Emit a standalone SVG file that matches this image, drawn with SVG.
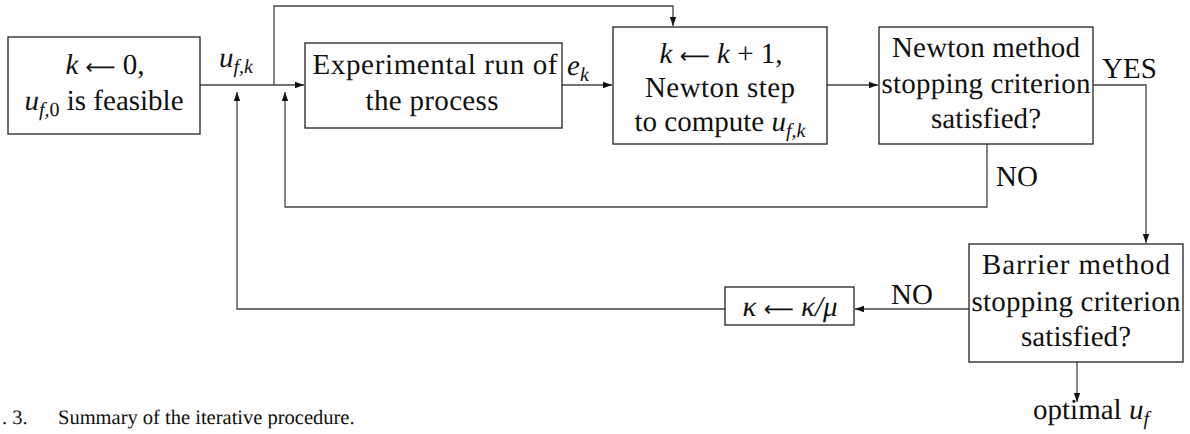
<svg xmlns="http://www.w3.org/2000/svg" width="1190" height="434" viewBox="0 0 1190 434">
<style>
text{font-family:"Liberation Serif","Times New Roman",serif;font-size:29px;fill:#111;text-rendering:geometricPrecision}
.m{font-style:italic}
.s{font-size:20px}
.ar{font-family:"DejaVu Sans",sans-serif;font-style:normal;font-size:21px}
.box{fill:#fff;stroke:#222;stroke-width:1.3}
.c{fill:none;stroke:#444;stroke-width:1.3}
.cap{font-size:20.5px}
</style>
<defs>
<marker id="ar" markerUnits="userSpaceOnUse" markerWidth="10" markerHeight="8" refX="9" refY="4" orient="auto">
<path d="M0,0.8 L9,4 L0,7.2 Z" fill="#111"/>
</marker>
</defs>
<g id="connectors">
<path class="c" d="M200,85 H304" marker-end="url(#ar)"/>
<path class="c" d="M274,85 V6 H673 V26" marker-end="url(#ar)"/>
<path class="c" d="M562,85 H612" marker-end="url(#ar)"/>
<path class="c" d="M827,85 H878" marker-end="url(#ar)"/>
<path class="c" d="M1093,85 H1146 V243" marker-end="url(#ar)"/>
<path class="c" d="M987,144 V207 H285 V92" marker-end="url(#ar)"/>
<path class="c" d="M969,309 H855" marker-end="url(#ar)"/>
<path class="c" d="M725,309 H237 V92" marker-end="url(#ar)"/>
<path class="c" d="M1077,362 V402" marker-end="url(#ar)"/>
</g>
<g id="labels">
<text x="219" y="67"><tspan class="m">u</tspan><tspan class="m s" dy="6">f,k</tspan></text>
<text x="567" y="75"><tspan class="m">e</tspan><tspan class="m s" dy="6">k</tspan></text>
<text x="1102" y="78">YES</text>
<text x="996" y="186">NO</text>
<text x="891" y="304">NO</text>
</g>
<g id="n1">
<rect class="box" x="8" y="37" width="192" height="97"/>
<text x="105" y="74" text-anchor="middle"><tspan class="m">k</tspan> <tspan class="ar">⟵</tspan> 0,</text>
<text x="104" y="110" text-anchor="middle"><tspan class="m">u</tspan><tspan class="m s" dy="6">f,</tspan><tspan class="s">0</tspan><tspan dy="-6"> is feasible</tspan></text>
</g>
<g id="n2">
<rect class="box" x="305" y="43" width="257" height="85"/>
<text x="435" y="74" text-anchor="middle" textLength="245" lengthAdjust="spacing">Experimental run of</text>
<text x="432" y="110" text-anchor="middle" textLength="133" lengthAdjust="spacing">the process</text>
</g>
<g id="n3">
<rect class="box" x="613" y="27" width="214" height="117"/>
<text x="721" y="63" text-anchor="middle"><tspan class="m">k</tspan> <tspan class="ar">⟵</tspan> <tspan class="m">k</tspan> + 1,</text>
<text x="720" y="97" text-anchor="middle" textLength="150" lengthAdjust="spacing">Newton step</text>
<text x="720" y="131" text-anchor="middle">to compute <tspan class="m">u</tspan><tspan class="m s" dy="6">f,k</tspan></text>
</g>
<g id="n4">
<rect class="box" x="879" y="27" width="214" height="117"/>
<text x="986" y="57" text-anchor="middle" textLength="188" lengthAdjust="spacing">Newton method</text>
<text x="986" y="93" text-anchor="middle" textLength="209" lengthAdjust="spacing">stopping criterion</text>
<text x="986" y="128" text-anchor="middle" textLength="110" lengthAdjust="spacing">satisfied?</text>
</g>
<g id="n5">
<rect class="box" x="969" y="244" width="214" height="118"/>
<text x="1076" y="274" text-anchor="middle" textLength="188" lengthAdjust="spacing">Barrier method</text>
<text x="1076" y="311" text-anchor="middle" textLength="209" lengthAdjust="spacing">stopping criterion</text>
<text x="1076" y="346" text-anchor="middle" textLength="110" lengthAdjust="spacing">satisfied?</text>
</g>
<g id="n6">
<rect class="box" x="725" y="287" width="129" height="38"/>
<text x="790" y="316" text-anchor="middle" class="m">κ <tspan class="ar">⟵</tspan> κ/μ</text>
</g>
<g id="n7">
<text x="1091" y="419" text-anchor="middle">optimal <tspan class="m">u</tspan><tspan class="m s" dy="6">f</tspan></text>
</g>
<text class="cap" x="2" y="424">. 3.</text>
<text class="cap" x="58" y="424">Summary of the iterative procedure.</text>
</svg>
